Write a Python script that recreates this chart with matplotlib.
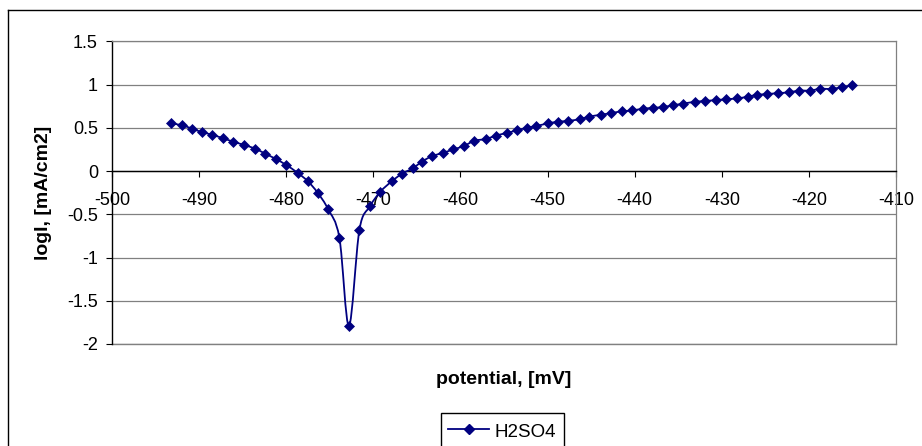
import matplotlib
matplotlib.use("Agg")
import matplotlib.pyplot as plt
import numpy as np
from matplotlib.lines import Line2D
from matplotlib.patches import PathPatch
from matplotlib.path import Path

plt.rcParams["font.family"] = ["Liberation Sans", "DejaVu Sans"]

# Data
potential = [
    -493.2, -492.0, -490.8, -489.7, -488.5, -487.3, -486.1, -484.8, -483.6, -482.4,
    -481.2, -480.0, -478.7, -477.5, -476.4, -475.2, -473.9, -472.8, -471.6, -470.4,
    -469.2, -467.9, -466.7, -465.5, -464.4, -463.3, -462.0, -460.8, -459.6, -458.4,
    -457.1, -455.9, -454.7, -453.5, -452.4, -451.3, -450.0, -448.8, -447.6, -446.3,
    -445.2, -443.9, -442.7, -441.5, -440.3, -439.1, -437.9, -436.8, -435.6, -434.4,
    -433.1, -431.9, -430.7, -429.5, -428.2, -427.0, -426.0, -424.8, -423.6, -422.3,
    -421.1, -419.9, -418.7, -417.4, -416.2, -415.0,
]
log_i = [
    0.55, 0.53, 0.49, 0.45, 0.42, 0.38, 0.34, 0.30, 0.26, 0.20,
    0.14, 0.07, -0.02, -0.12, -0.25, -0.44, -0.77, -1.79, -0.68, -0.41,
    -0.24, -0.12, -0.03, 0.03, 0.11, 0.17, 0.21, 0.25, 0.29, 0.35,
    0.37, 0.41, 0.44, 0.47, 0.50, 0.52, 0.55, 0.57, 0.58, 0.60,
    0.63, 0.65, 0.67, 0.69, 0.70, 0.72, 0.73, 0.74, 0.76, 0.78,
    0.80, 0.81, 0.82, 0.83, 0.84, 0.86, 0.88, 0.89, 0.90, 0.91,
    0.93, 0.93, 0.95, 0.95, 0.97, 0.99,
]
series_name = "H2SO4"
x_ticks = [-500, -490, -480, -470, -460, -450, -440, -430, -420, -410]
y_ticks = [-2, -1.5, -1, -0.5, 0, 0.5, 1, 1.5]

W, H = 922, 446
navy = "#000080"
grid_gray = "#808080"


def smooth_path(xs, ys):
    """Excel-like smoothed line (Catmull-Rom as cubic Bezier)"""
    pts = np.column_stack([xs, ys])
    n = len(pts)
    verts = [pts[0]]
    codes = [Path.MOVETO]
    for i in range(n - 1):
        p0 = pts[i - 1] if i > 0 else pts[i]
        p1 = pts[i]
        p2 = pts[i + 1]
        p3 = pts[i + 2] if i + 2 < n else pts[i + 1]
        verts += [p1 + (p2 - p0) / 6, p2 - (p3 - p1) / 6, p2]
        codes += [Path.CURVE4] * 3
    return Path(verts, codes)


fig = plt.figure(figsize=(W / 100, H / 100), dpi=100)
ax = fig.add_axes([112 / W, 1 - 344 / H, (896 - 112) / W, (344 - 41.3) / H])

ax.set_xlim(-500, -410)
ax.set_ylim(-2, 1.5)
ax.set_xticks(x_ticks)
ax.set_yticks(y_ticks)
ax.set_xticklabels([str(t) for t in x_ticks])
ax.set_yticklabels(["-2", "-1.5", "-1", "-0.5", "0", "0.5", "1", "1.5"])

# gridlines
ax.grid(axis="y", color=grid_gray, linewidth=0.9)
ax.axhline(-2, color=grid_gray, linewidth=1.0, clip_on=False, zorder=0.5)
ax.set_axisbelow(True)

# spines
ax.spines["left"].set_color("black")
ax.spines["left"].set_linewidth(1.0)
for side in ["top", "right"]:
    ax.spines[side].set_color(grid_gray)
    ax.spines[side].set_linewidth(0.9)
ax.spines["bottom"].set_position(("data", 0))
ax.spines["bottom"].set_color("black")
ax.spines["bottom"].set_linewidth(1.0)

ax.tick_params(axis="x", direction="out", length=4.3, width=0.8, pad=11.0, labelsize=13)
ax.tick_params(axis="y", direction="out", length=4.3, width=0.8, pad=5.8, labelsize=13)

# smoothed line + diamonds
ax.add_patch(PathPatch(smooth_path(potential, log_i), fill=False,
                       edgecolor=navy, linewidth=1.3, zorder=3))
ax.plot(potential, log_i, linestyle="none", marker="D", markersize=5.6,
        color=navy, markeredgewidth=0.5, zorder=4, clip_on=False)

# axis titles
fig.text(504 / W, 1 - 380 / H, "potential, [mV]", ha="center", va="center",
         fontsize=14, fontweight="bold")
fig.text(44 / W, 1 - 193 / H, "logI, [mA/cm2]", ha="center", va="center",
         rotation=90, fontsize=14, fontweight="bold")

# legend
handle = Line2D([], [], color=navy, linewidth=1.3, marker="D", markersize=5.6)
leg = ax.legend([handle], [series_name], loc="upper left",
                bbox_to_anchor=(440.7 / W, 1 - 413.3 / H), bbox_transform=fig.transFigure,
                frameon=True, fancybox=False, edgecolor="black", framealpha=1,
                borderaxespad=0, handlelength=2.2, handletextpad=0.27,
                handleheight=1.3, borderpad=0.4, fontsize=13.5, numpoints=1)
leg.get_frame().set_linewidth(1.0)

# outer chart frame
fig.add_artist(Line2D([8 / W, 8 / W], [0, 1 - 10 / H], transform=fig.transFigure,
                      color="black", linewidth=1.0))
fig.add_artist(Line2D([8 / W, 1], [1 - 10 / H, 1 - 10 / H], transform=fig.transFigure,
                      color="black", linewidth=1.0))

fig.savefig("out.png", dpi=100)
